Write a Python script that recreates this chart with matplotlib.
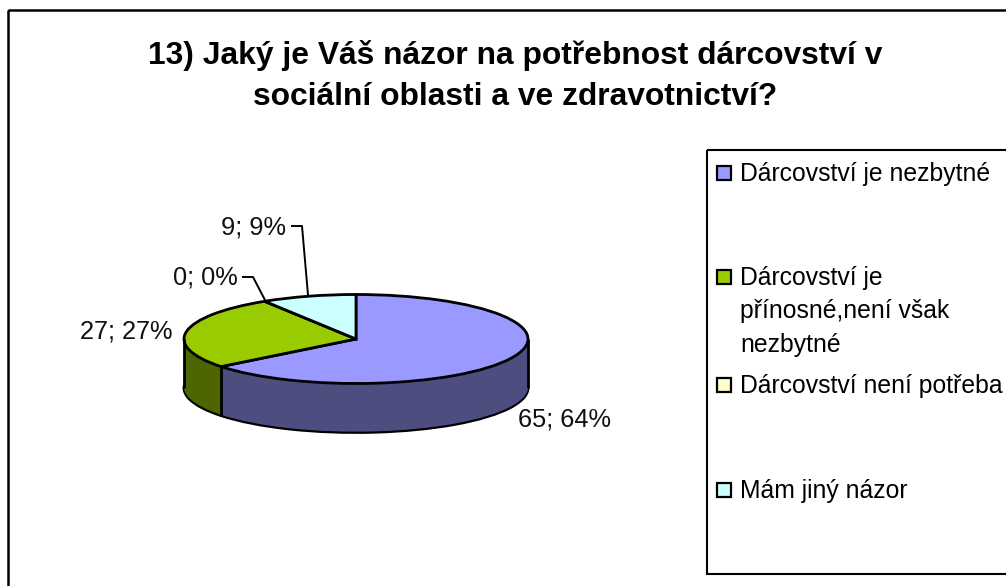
import numpy as np
import matplotlib
matplotlib.use('Agg')
import matplotlib.pyplot as plt
from matplotlib.patches import Rectangle

plt.rcParams['font.family'] = ['Liberation Sans', 'DejaVu Sans']

title = "13) Jaký je Váš názor na potřebnost dárcovství v\nsociální oblasti a ve zdravotnictví?"
categories = ["Dárcovství je nezbytné", "Dárcovství je\npřínosné,není však\nnezbytné",
              "Dárcovství není potřeba", "Mám jiný názor"]
values = [65, 27, 0, 9]
percents = [64, 27, 0, 9]
top_colors = ['#9999FF', '#99CC00', '#FFFFCC', '#CCFFFF']
side_colors = ['#4D4D80', '#4D6600', '#808066', '#668080']

W, H = 1006, 586
cx, cy = 356, 339  # stred kolace v pixelech
rx, ry, depth = 172, 44.5, 49

fig = plt.figure(figsize=(W/100, H/100), dpi=100, facecolor='white')

# kolac: osa bez aspect=equal, kruh se zmackne na elipsu
ax = fig.add_axes([0, 0, 1, 1])
edge = {'edgecolor': 'black', 'linewidth': 2}
d = depth/ry
ax.pie(values, colors=side_colors, startangle=90, counterclock=False,
       center=(0, -d), wedgeprops=edge, frame=True)
for off in np.linspace(d, 0, 60)[1:-1]:
    ax.pie(values, colors=side_colors, startangle=90, counterclock=False,
           center=(0, -off), wedgeprops={'linewidth': 0}, frame=True)
ax.pie(values, colors=top_colors, startangle=90, counterclock=False,
       center=(0, 0), wedgeprops=edge, frame=True)

# svisle hrany boku
ang = np.deg2rad(90 - 360*values[0]/sum(values))
for x0 in [-1, 1, np.cos(ang)]:
    y0 = np.sin(ang) if x0 == np.cos(ang) else 0
    ax.plot([x0, x0], [y0, y0-d], color='black', lw=2, solid_capstyle='butt', zorder=5)

ax.set_aspect('auto')
ax.set_xlim(-cx/rx, (W-cx)/rx)
ax.set_ylim(-(H-cy)/ry, cy/ry)
ax.axis('off')

# vse ostatni v pixelech
ov = fig.add_axes([0, 0, 1, 1], facecolor='none')
ov.set_xlim(0, W)
ov.set_ylim(H, 0)
ov.axis('off')

ov.add_patch(Rectangle((8.5, 10), W, H, fill=False, edgecolor='black', lw=1.8))
ov.add_patch(Rectangle((707, 150), W, 424, fill=False, edgecolor='black', lw=1.5))

ov.text(515, 76, title, ha='center', va='center', fontsize=22.9, fontweight='bold',
        linespacing=1.44, color='black')

label_pos = [(518, 419), (80, 331), (173, 277), (221, 227)]
for (x, y), v, p in zip(label_pos, values, percents):
    ov.text(x, y, f"{v}; {p}%", ha='left', va='center', fontsize=18.3, color='#111111')

# vodici cary popisku
ov.plot([243, 253, 265], [277, 277, 300], color='black', lw=1.4)
ov.plot([292, 302, 308], [226, 226, 295], color='black', lw=1.4)

# legenda
leg_y = [173, 277, 385, 490]
for y, c, lab in zip(leg_y, top_colors, categories):
    ov.add_patch(Rectangle((717.5, y-7), 14, 14, facecolor=c, edgecolor='black', lw=1.6))
    ov.text(740, y-11, lab, ha='left', va='top', fontsize=17.8, linespacing=1.49, color='black')

fig.savefig('out.png', dpi=100)
